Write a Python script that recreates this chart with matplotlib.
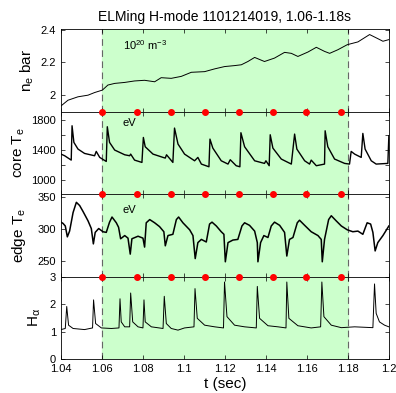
import matplotlib
matplotlib.use('Agg')
import matplotlib.pyplot as plt

plt.rcParams['font.family'] = ['Liberation Sans', 'DejaVu Sans']
plt.rcParams['mathtext.default'] = 'regular'

# line averaged density (1e20 m^-3)
ne_t = [1.0400, 1.0434, 1.0483, 1.0532, 1.0564, 1.0602, 1.0629, 1.0662, 1.0711, 1.0759,
        1.0808, 1.0857, 1.0889, 1.0938, 1.0987, 1.1036, 1.1101, 1.1150, 1.1198, 1.1247,
        1.1280, 1.1312, 1.1345, 1.1393, 1.1442, 1.1491, 1.1524, 1.1556, 1.1605, 1.1646,
        1.1686, 1.1711, 1.1751, 1.1797, 1.1849, 1.1906, 1.1946, 1.1971, 1.2000]
ne_v = [1.934, 1.969, 1.990, 2.000, 2.016, 2.031, 2.062, 2.072, 2.078, 2.087,
        2.091, 2.082, 2.107, 2.103, 2.115, 2.140, 2.144, 2.161, 2.175, 2.181,
        2.186, 2.206, 2.231, 2.206, 2.227, 2.262, 2.256, 2.237, 2.264, 2.293,
        2.268, 2.256, 2.278, 2.309, 2.326, 2.371, 2.346, 2.330, 2.340]

# core Te (eV)
core_t = [1.0400, 1.0418, 1.0450, 1.0454, 1.0463, 1.0483, 1.0515, 1.0564, 1.0572, 1.0589,
          1.0621, 1.0626, 1.0637, 1.0662, 1.0711, 1.0735, 1.0740, 1.0759, 1.0795, 1.0802,
          1.0811, 1.0849, 1.0898, 1.0909, 1.0915, 1.0946, 1.0954, 1.0971, 1.1003, 1.1052,
          1.1068, 1.1085, 1.1122, 1.1127, 1.1141, 1.1182, 1.1215, 1.1226, 1.1255, 1.1273,
          1.1278, 1.1296, 1.1345, 1.1393, 1.1400, 1.1416, 1.1421, 1.1434, 1.1475, 1.1524,
          1.1540, 1.1551, 1.1589, 1.1613, 1.1621, 1.1646, 1.1686, 1.1689, 1.1702, 1.1735,
          1.1784, 1.1808, 1.1816, 1.1833, 1.1865, 1.1873, 1.1884, 1.1914, 1.1938, 1.1995,
          1.2000]
core_v = [1342, 1320, 1262, 1720, 1498, 1409, 1351, 1320, 1378, 1298,
          1244, 1707, 1498, 1396, 1333, 1320, 1342, 1262, 1231, 1564,
          1440, 1342, 1298, 1289, 1333, 1231, 1689, 1476, 1342, 1253,
          1298, 1209, 1173, 1542, 1422, 1253, 1209, 1267, 1187, 1173,
          1627, 1440, 1253, 1218, 1253, 1187, 1600, 1422, 1276, 1209,
          1609, 1409, 1253, 1209, 1262, 1187, 1209, 1653, 1440, 1276,
          1218, 1209, 1378, 1342, 1298, 1618, 1409, 1253, 1209, 1218,
          1587]

# edge Te (eV)
edge_t = [1.0400, 1.0410, 1.0421, 1.0431, 1.0442, 1.0459, 1.0475, 1.0491, 1.0507, 1.0532,
          1.0548, 1.0558, 1.0567, 1.0584, 1.0605, 1.0621, 1.0637, 1.0649, 1.0670, 1.0681,
          1.0691, 1.0711, 1.0727, 1.0738, 1.0746, 1.0776, 1.0800, 1.0808, 1.0816, 1.0833,
          1.0857, 1.0881, 1.0902, 1.0909, 1.0922, 1.0946, 1.0963, 1.0974, 1.0995, 1.1028,
          1.1044, 1.1055, 1.1068, 1.1085, 1.1109, 1.1125, 1.1137, 1.1158, 1.1182, 1.1195,
          1.1202, 1.1215, 1.1239, 1.1263, 1.1283, 1.1296, 1.1320, 1.1345, 1.1358, 1.1361,
          1.1374, 1.1390, 1.1410, 1.1426, 1.1442, 1.1467, 1.1491, 1.1502, 1.1515, 1.1532,
          1.1553, 1.1564, 1.1589, 1.1621, 1.1654, 1.1670, 1.1675, 1.1686, 1.1706, 1.1719,
          1.1743, 1.1768, 1.1797, 1.1824, 1.1849, 1.1873, 1.1894, 1.1911, 1.1922, 1.1933,
          1.1946, 1.1971, 1.2000]
edge_v = [310, 308, 304, 287, 296, 325, 341, 336, 327, 312,
          300, 276, 294, 300, 295, 294, 310, 318, 309, 302,
          284, 289, 285, 260, 284, 288, 285, 271, 309, 314,
          309, 303, 295, 273, 289, 291, 314, 318, 309, 298,
          289, 253, 278, 283, 279, 307, 310, 304, 295, 291,
          248, 278, 282, 283, 304, 309, 305, 296, 278, 248,
          278, 289, 286, 304, 310, 305, 294, 257, 283, 286,
          309, 313, 305, 295, 289, 283, 248, 283, 314, 320,
          312, 304, 298, 295, 296, 291, 309, 307, 294, 265,
          278, 289, 304]

# H-alpha
ha_t = [1.0400, 1.0421, 1.0428, 1.0437, 1.0459, 1.0515, 1.0554, 1.0559, 1.0569, 1.0597,
        1.0646, 1.0683, 1.0688, 1.0694, 1.0711, 1.0735, 1.0740, 1.0750, 1.0776, 1.0800,
        1.0805, 1.0811, 1.0841, 1.0898, 1.0904, 1.0914, 1.0938, 1.0971, 1.1003, 1.1049,
        1.1054, 1.1065, 1.1101, 1.1150, 1.1193, 1.1198, 1.1210, 1.1247, 1.1296, 1.1353,
        1.1358, 1.1369, 1.1410, 1.1459, 1.1498, 1.1502, 1.1512, 1.1556, 1.1621, 1.1667,
        1.1673, 1.1683, 1.1719, 1.1768, 1.1833, 1.1922, 1.1930, 1.1938, 1.1954, 1.1979,
        1.2000]
ha_v = [1.07, 1.11, 1.91, 1.23, 1.11, 1.07, 1.13, 2.15, 1.29, 1.13,
        1.11, 1.13, 2.19, 1.35, 1.17, 1.17, 2.40, 1.35, 1.17, 1.13,
        2.15, 1.35, 1.17, 1.11, 2.28, 1.29, 1.11, 1.05, 1.13, 1.17,
        2.56, 1.48, 1.23, 1.17, 1.13, 2.80, 1.54, 1.23, 1.17, 1.13,
        2.64, 1.48, 1.21, 1.17, 1.13, 2.80, 1.48, 1.21, 1.13, 1.17,
        2.80, 1.54, 1.23, 1.14, 1.17, 1.14, 2.73, 1.66, 1.35, 1.23,
        1.17]

# marked times (red dots)
mark_t = [1.0602, 1.0771, 1.0937, 1.1101, 1.1268, 1.1434, 1.1598, 1.1766]

fig, axes = plt.subplots(4, 1, sharex=True, figsize=(3.96, 3.93), dpi=100)
fig.subplots_adjust(left=0.154, right=0.982, bottom=0.0865, top=0.9262, hspace=0)

series = [(ne_t, ne_v, 0.7), (core_t, core_v, 1.0), (edge_t, edge_v, 1.1), (ha_t, ha_v, 0.7)]
ylims = [(1.9, 2.405), (810, 1910), (225, 354), (0, 3)]
yticks = [[2.0, 2.2, 2.4], [1000, 1200, 1400, 1600, 1800], [250, 300, 350], [0, 1, 2, 3]]
yticklabels = [['2', '2.2', '2.4'], ['1000', '', '1400', '', '1800'],
               ['250', '300', '350'], ['0', '1', '2', '3']]
ylabels = ['n$_e$ bar', 'core T$_e$', 'edge T$_e$', 'H$_\\alpha$']
label_x = [-0.075, -0.105, -0.1, -0.055]

for i, ax in enumerate(axes):
    t, v, lw = series[i]
    ax.axvspan(1.06, 1.18, color='#ccffcc', zorder=0)
    ax.axvline(1.06, color='#666666', ls=(0, (6, 4)), lw=0.8, zorder=1)
    ax.axvline(1.18, color='#666666', ls=(0, (6, 4)), lw=0.8, zorder=1)
    ax.plot(t, v, color='black', lw=lw, zorder=2)
    ax.set_xlim(1.04, 1.2)
    ax.set_ylim(*ylims[i])
    ax.set_yticks(yticks[i])
    ax.set_yticklabels(yticklabels[i])
    ax.set_ylabel(ylabels[i], fontsize=11)
    ax.yaxis.set_label_coords(label_x[i], 0.5)
    ax.tick_params(direction='in', top=True, right=True, length=3, width=0.5, labelsize=8)
    for s in ax.spines.values():
        s.set_linewidth(0.6)
    if i > 0:
        ax.plot(mark_t, [ylims[i][1]] * len(mark_t), 'o', color='red', ms=4,
                clip_on=False, zorder=5)

axes[-1].set_xticks([1.04, 1.06, 1.08, 1.1, 1.12, 1.14, 1.16, 1.18, 1.2])
axes[-1].set_xticklabels(['1.04', '1.06', '1.08', '1.1', '1.12', '1.14', '1.16', '1.18', '1.2'])
axes[-1].set_xlabel('t (sec)', fontsize=11, labelpad=2)

axes[0].set_title('ELMing H-mode 1101214019, 1.06-1.18s', fontsize=10)
axes[0].text(0.189, 0.74, '10$^{20}$ m$^{-3}$', transform=axes[0].transAxes, fontsize=8)
axes[1].text(0.189, 0.83, 'eV', transform=axes[1].transAxes, fontsize=8)
axes[2].text(0.189, 0.77, 'eV', transform=axes[2].transAxes, fontsize=8)

fig.savefig('out.png', dpi=100)
